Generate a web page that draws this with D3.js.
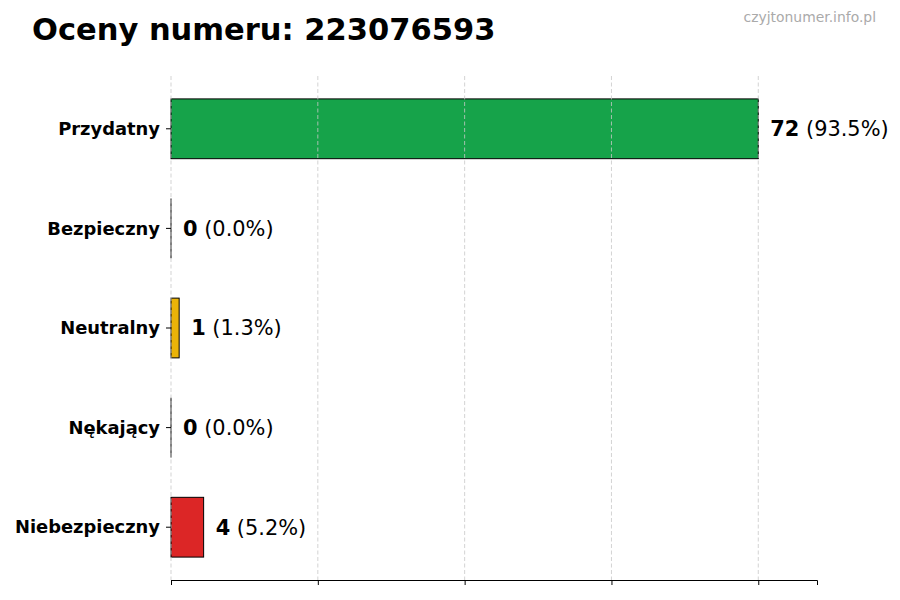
<!DOCTYPE html>
<html><head><meta charset="utf-8">
<script src="https://cdn.jsdelivr.net/npm/d3@7"></script>
<style>body{margin:0;background:#fff}svg{display:block}</style>
</head><body>
<svg id="c" width="900" height="600"></svg>
<script>
const categories = ["Przydatny","Bezpieczny","Neutralny","Nękający","Niebezpieczny"];
const counts = [72, 0, 1, 0, 4];
const percents = ["93.5%","0.0%","1.3%","0.0%","5.2%"];
const colors = ["#16a34a","#3b82f6","#eab308","#f97316","#dc2626"];
const xTicks = [0, 18, 36, 54, 72];
const title = "Oceny numeru: 223076593";
const watermark = "czyjtonumer.info.pl";

const svg = d3.select("#c");
const F = "DejaVu Sans, sans-serif";
const m = {left:171, right:817, top:76, bottom:580};
const xMax = d3.max(counts) * 1.1;
const x = d3.scaleLinear().domain([0, xMax]).range([m.left, m.right]);
const y = d3.scaleLinear().domain([-0.53, categories.length - 1 + 0.53]).range([m.top, m.bottom]);
const barH = y(0.3) - y(-0.3);

svg.append("text").attr("x", 32).attr("y", 40).attr("font-family", F)
  .attr("font-weight", "bold").attr("font-size", 30.5).attr("fill", "#000").text(title);
svg.append("text").attr("x", 876).attr("y", 22).attr("text-anchor", "end").attr("font-family", F)
  .attr("font-size", 13.9).attr("fill", "#aaaaaa").text(watermark);

// bars
svg.append("g").selectAll("rect").data(counts).join("rect")
  .attr("x", x(0)).attr("y", (d,i) => y(i) - barH/2)
  .attr("width", d => x(d) - x(0)).attr("height", barH)
  .attr("fill", (d,i) => colors[i]).attr("stroke", "#000").attr("stroke-width", 1);
// zero-width bars still show their edge
svg.append("g").selectAll("line").data(counts.map((d,i) => ({d, i})).filter(o => o.d === 0)).join("line")
  .attr("x1", o => x(o.d)).attr("x2", o => x(o.d))
  .attr("y1", o => y(o.i) - barH/2).attr("y2", o => y(o.i) + barH/2)
  .attr("stroke", "#000").attr("stroke-width", 1);

// grid (on top)
svg.append("g").selectAll("line").data(xTicks).join("line")
  .attr("x1", d => x(d)).attr("x2", d => x(d)).attr("y1", m.top).attr("y2", m.bottom)
  .attr("stroke", "#c8c8c8").attr("stroke-dasharray", "4,2.5").attr("stroke-width", 0.8);

// x axis
const xa = svg.append("g").attr("transform", `translate(0,${m.bottom})`)
  .call(d3.axisBottom(x).tickValues(xTicks).tickFormat("").tickSizeOuter(0).tickSize(5));
xa.select(".domain").attr("stroke", "#000").attr("stroke-width", 1);
xa.selectAll(".tick line").attr("stroke", "#000");

// y axis
const yTickG = svg.append("g").selectAll("g").data(categories).join("g")
  .attr("transform", (d,i) => `translate(${m.left},${y(i)})`);
yTickG.append("line").attr("x1", -5).attr("x2", 0).attr("stroke", "#000");
yTickG.append("text").attr("x", -11).attr("dy", "0.35em").attr("text-anchor", "end")
  .attr("font-family", F).attr("font-weight", "bold").attr("font-size", 17.9).attr("fill", "#000").text(d => d);

// value labels
const vl = svg.append("g").selectAll("text").data(counts).join("text")
  .attr("x", d => x(d) + 12).attr("y", (d,i) => y(i)).attr("dy", "0.35em")
  .attr("font-family", F).attr("font-size", 20.9).attr("fill", "#000");
vl.append("tspan").attr("font-weight", "bold").text(d => d);
vl.append("tspan").text((d,i) => " (" + percents[i] + ")");
</script>
</body></html>
